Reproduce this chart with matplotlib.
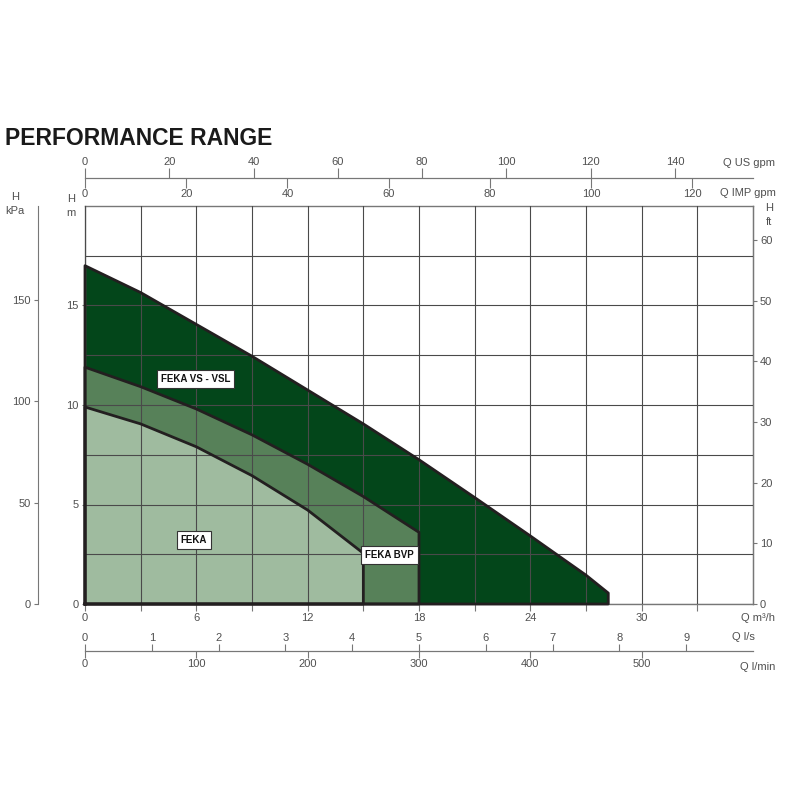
import matplotlib
matplotlib.use('Agg')
import matplotlib.pyplot as plt
from matplotlib.ticker import MultipleLocator, FixedLocator

plt.rcParams['font.family'] = ['Liberation Sans', 'DejaVu Sans']

##############################################
# Data (Q in m3/h, H in m)
##############################################
q_vs = [0, 3, 6, 9, 12, 15, 18, 21, 24, 27, 28.2]
h_vs = [17.0, 15.65, 14.05, 12.45, 10.75, 9.05, 7.25, 5.35, 3.42, 1.45, 0.55]

q_bvp = [0, 3, 6, 9, 12, 15, 18]
h_bvp = [11.9, 10.92, 9.8, 8.5, 7.02, 5.4, 3.6]

q_feka = [0, 3, 6, 9, 12, 15]
h_feka = [9.9, 9.05, 7.9, 6.45, 4.72, 2.55]

area_names = ['FEKA VS - VSL', 'FEKA BVP', 'FEKA']
area_colors = ['#03461a', '#578159', '#9fbb9f']
label_pos = [(5.97, 11.3), (16.4, 2.45), (5.87, 3.2)]

##############################################
# Helpers
##############################################
W = H = 800.0
GRAY = '#777777'
TXT = '#505050'

def fx(px):
    return px / W

def fy(py):
    return 1 - py / H

def area(q, h):
    xs = [q[0]] + list(q) + [q[-1]]
    ys = [0] + list(h) + [0]
    return xs, ys

##############################################
# Figure
##############################################
fig = plt.figure(figsize=(8, 8), dpi=100)
fig.patch.set_facecolor('white')

left, right, bottom, top = 85, 753, 604, 206
ax = fig.add_axes([fx(left), fy(bottom), (right - left) / W, (bottom - top) / H])
ax.set_xlim(0, 36)
ax.set_ylim(0, 20)

for q, h, c in zip([q_vs, q_bvp, q_feka], [h_vs, h_bvp, h_feka], area_colors):
    xs, ys = area(q, h)
    ax.fill(xs, ys, color=c, lw=0, zorder=1)
for q, h in zip([q_vs, q_bvp, q_feka], [h_vs, h_bvp, h_feka]):
    xs, ys = area(q, h)
    ax.plot(xs + [xs[0]], ys + [ys[0]], color='#231f20', lw=2.0, zorder=3,
            solid_joinstyle='round', clip_on=False)

for name, (lx, ly) in zip(area_names, label_pos):
    ax.text(lx, ly, name, ha='center', va='center', fontsize=7, weight='bold',
            color='#111111', zorder=5,
            bbox=dict(boxstyle='square,pad=0.4', fc='white', ec='#333333', lw=0.8))

ax.xaxis.set_major_locator(FixedLocator(range(0, 31, 6)))
ax.xaxis.set_minor_locator(FixedLocator(range(3, 34, 6)))
ax.yaxis.set_major_locator(FixedLocator([0, 5, 10, 15]))
ax.yaxis.set_minor_locator(FixedLocator([2.5, 7.5, 12.5, 17.5]))
ax.grid(which='both', color='#4a4a4a', lw=0.8, zorder=2)
ax.set_axisbelow(False)
for s in ax.spines.values():
    s.set_color(GRAY)
    s.set_linewidth(1.0)
ax.tick_params(axis='x', which='both', length=5, width=0.8, color=GRAY,
               labelsize=8, labelcolor=TXT, pad=1.5)
ax.tick_params(axis='y', which='major', length=2.5, width=0.8, color=GRAY,
               labelsize=8, labelcolor=TXT, pad=2)
ax.tick_params(axis='y', which='minor', length=0)

# H ft on the right
ax_ft = ax.secondary_yaxis('right', functions=(lambda m: m / 0.3048, lambda f: f * 0.3048))
ax_ft.set_yticks(range(0, 61, 10))
ax_ft.spines['right'].set_color(GRAY)
ax_ft.tick_params(length=3, width=0.8, color=GRAY, labelsize=8, labelcolor=TXT, pad=2)

# H kPa on the far left
ax_k = fig.add_axes([fx(38), fy(bottom), 0.0001, (bottom - top) / H])
ax_k.set_ylim(0, 20 * 9.80665)
ax_k.set_yticks([0, 50, 100, 150])
ax_k.set_xticks([])
for s in ['top', 'right', 'bottom']:
    ax_k.spines[s].set_visible(False)
ax_k.spines['left'].set_color(GRAY)
ax_k.tick_params(length=3, width=0.8, color=GRAY, labelsize=8, labelcolor=TXT, pad=2)
ax_k.patch.set_visible(False)

# top flow scale: US gpm (up) / IMP gpm (down)
ax_g = fig.add_axes([fx(left), fy(178), (right - left) / W, 0.0001])
ax_g.set_xlim(0, 36 / 0.227125)
ax_g.set_yticks([])
ax_g.xaxis.set_ticks_position('top')
ax_g.set_xticks(range(0, 141, 20))
for s in ['top', 'left', 'right']:
    ax_g.spines[s].set_visible(False)
ax_g.spines['bottom'].set_color(GRAY)
ax_g.tick_params(axis='x', length=7, width=0.8, color=GRAY, labelsize=8, labelcolor=TXT, pad=1)
ax_g.patch.set_visible(False)
ax_imp = ax_g.secondary_xaxis('bottom', functions=(lambda u: u * 0.832674, lambda i: i / 0.832674))
ax_imp.set_xticks(range(0, 121, 20))
ax_imp.spines['bottom'].set_color(GRAY)
ax_imp.tick_params(length=7, width=0.8, color=GRAY, labelsize=8, labelcolor=TXT, pad=1)

# bottom flow scale: l/s (up) / l/min (down)
ax_l = fig.add_axes([fx(left), fy(651), (right - left) / W, 0.0001])
ax_l.set_xlim(0, 10)
ax_l.set_yticks([])
ax_l.xaxis.set_ticks_position('top')
ax_l.set_xticks(range(0, 10))
for s in ['top', 'left', 'right']:
    ax_l.spines[s].set_visible(False)
ax_l.spines['bottom'].set_color(GRAY)
ax_l.tick_params(axis='x', length=5, width=0.8, color=GRAY, labelsize=8, labelcolor=TXT, pad=1)
ax_l.patch.set_visible(False)
ax_min = ax_l.secondary_xaxis('bottom', functions=(lambda s: s * 60, lambda m: m / 60))
ax_min.set_xticks(range(0, 501, 100))
ax_min.spines['bottom'].set_color(GRAY)
ax_min.tick_params(length=5, width=0.8, color=GRAY, labelsize=8, labelcolor=TXT, pad=1)

# unit labels
kw = dict(fontsize=8, color=TXT, va='center')
fig.text(fx(775), fy(163), 'Q US gpm', ha='right', **kw)
fig.text(fx(776), fy(193), 'Q IMP gpm', ha='right', **kw)
fig.text(fx(775), fy(618), 'Q m³/h', ha='right', **kw)
fig.text(fx(755), fy(637), 'Q l/s', ha='right', **kw)
fig.text(fx(775), fy(667), 'Q l/min', ha='right', **kw)
fig.text(fx(15), fy(204), 'H\nkPa', ha='center', linespacing=1.5, **kw)
fig.text(fx(71), fy(206), 'H\nm', ha='center', linespacing=1.5, **kw)
fig.text(fx(769), fy(215), 'H\nft', ha='center', linespacing=1.4, **kw)

fig.text(fx(5), fy(145), 'PERFORMANCE RANGE', fontsize=16.5, weight='bold',
         color='#1a1a1a', ha='left', va='baseline')

fig.savefig('out.png', dpi=100, facecolor='white')
